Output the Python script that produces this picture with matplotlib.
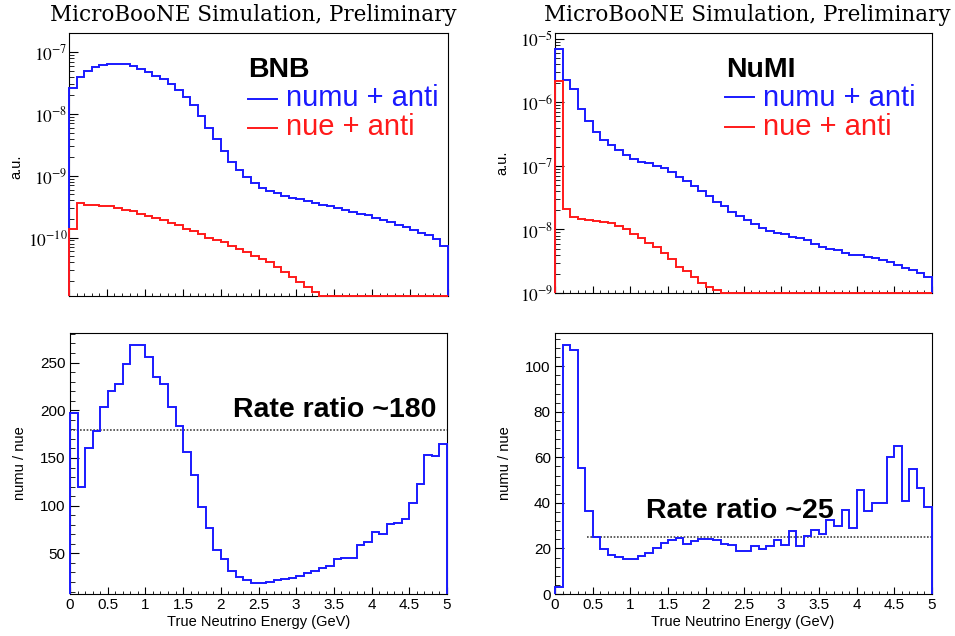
import numpy as np
import matplotlib.pyplot as plt
from matplotlib.ticker import MultipleLocator, LogLocator, FuncFormatter, NullFormatter

plt.rcParams['font.family'] = ['Liberation Sans', 'DejaVu Sans']
plt.rcParams['mathtext.fontset'] = 'stix'

# 50 bins of 0.1 GeV in true neutrino energy
energy_edges = np.linspace(0, 5, 51)

# BNB flux (a.u.)
bnb_numu = [2.6e-8, 4.0e-8, 5.0e-8, 5.7e-8, 6.2e-8, 6.5e-8, 6.5e-8, 6.3e-8, 5.9e-8, 5.4e-8,
            4.76e-8, 4.15e-8, 3.6e-8, 3.0e-8, 2.4e-8, 1.9e-8, 1.37e-8, 9.2e-9, 5.9e-9, 3.9e-9,
            2.5e-9, 1.7e-9, 1.23e-9, 9.4e-10, 7.6e-10, 6.4e-10, 5.7e-10, 5.2e-10, 4.7e-10, 4.4e-10,
            4.2e-10, 3.9e-10, 3.6e-10, 3.4e-10, 3.2e-10, 3.0e-10, 2.8e-10, 2.6e-10, 2.45e-10, 2.3e-10,
            2.1e-10, 1.9e-10, 1.8e-10, 1.6e-10, 1.5e-10, 1.35e-10, 1.2e-10, 1.1e-10, 9.5e-11, 7.3e-11]
bnb_nue = [1.36e-10, 3.6e-10, 3.4e-10, 3.4e-10, 3.3e-10, 3.2e-10, 3.0e-10, 2.85e-10, 2.65e-10, 2.4e-10,
           2.2e-10, 2.05e-10, 1.9e-10, 1.75e-10, 1.6e-10, 1.4e-10, 1.27e-10, 1.15e-10, 1.0e-10, 9.3e-11,
           8.4e-11, 7.3e-11, 6.5e-11, 5.8e-11, 5.1e-11, 4.6e-11, 4.0e-11, 3.4e-11, 2.8e-11, 2.3e-11,
           1.9e-11, 1.6e-11, 1.3e-11, 0, 0, 0, 0, 0, 0, 0,
           0, 0, 0, 0, 0, 0, 0, 0, 0, 0]
bnb_ratio = [197, 120, 160, 178, 203, 220, 228, 248.6, 268, 268.5,
             255.6, 235.3, 227.6, 203, 183, 156.3, 132.2, 99, 76.2, 53.5,
             44.4, 31.8, 25.5, 22, 19.2, 19.2, 20, 21.7, 22.7, 24.5,
             26.6, 29, 31.8, 35, 36.7, 44.4, 45.1, 45.1, 58.4, 61.5,
             72, 70.3, 80.4, 82.2, 86.4, 102.8, 122.7, 153.1, 151.7, 164.7]
bnb_rate_ratio = 179

# NuMI flux (a.u.)
numi_numu = [6.9e-6, 2.25e-6, 1.6e-6, 7.9e-7, 5.0e-7, 3.4e-7, 2.57e-7, 2.1e-7, 1.75e-7, 1.49e-7,
             1.28e-7, 1.16e-7, 1.1e-7, 1.0e-7, 9.1e-8, 7.9e-8, 6.8e-8, 5.7e-8, 4.8e-8, 4.0e-8,
             3.4e-8, 2.7e-8, 2.3e-8, 1.9e-8, 1.6e-8, 1.4e-8, 1.2e-8, 1.07e-8, 9.6e-9, 8.9e-9,
             8.4e-9, 7.7e-9, 7.2e-9, 6.7e-9, 6.0e-9, 5.3e-9, 5.0e-9, 4.7e-9, 4.3e-9, 4.0e-9,
             3.9e-9, 3.7e-9, 3.5e-9, 3.3e-9, 3.1e-9, 2.8e-9, 2.5e-9, 2.3e-9, 2.1e-9, 1.8e-9]
numi_nue = [2.2e-6, 2.06e-8, 1.55e-8, 1.45e-8, 1.4e-8, 1.37e-8, 1.32e-8, 1.25e-8, 1.14e-8, 1.0e-8,
            8.5e-9, 7.3e-9, 6.2e-9, 5.2e-9, 4.2e-9, 3.4e-9, 2.6e-9, 2.2e-9, 1.8e-9, 1.45e-9,
            1.25e-9, 1.1e-9, 0, 0, 0, 0, 0, 0, 0, 0,
            0, 0, 0, 0, 0, 0, 0, 0, 0, 0,
            0, 0, 0, 0, 0, 0, 0, 0, 0, 0]
numi_ratio = [3.1, 109.5, 107.3, 55.3, 36.3, 25, 19.9, 17.3, 16.1, 15.5,
              15.5, 16.5, 18, 20.2, 22.4, 23.5, 24.6, 22, 23.4, 24,
              24.3, 23.5, 22, 21.7, 18.7, 18.7, 20.9, 19.9, 21.2, 23.5,
              21.7, 27.8, 20.9, 25.3, 28.2, 26.3, 32.6, 30, 37, 29,
              45.5, 36.3, 40, 40, 60.2, 65.1, 40.7, 54.9, 46.5, 38.2]
numi_rate_ratio = 25
numi_line_start = 0.43

W, H = 955, 636
fig = plt.figure(figsize=(W / 100, H / 100), dpi=100)


def box(x0, y0, x1, y1):
    return [x0 / W, 1 - y1 / H, (x1 - x0) / W, (y1 - y0) / H]


def style(ax):
    for s in ax.spines.values():
        s.set_linewidth(0.8)
    ax.set_xlim(0, 5)
    ax.xaxis.set_major_locator(MultipleLocator(0.5))
    ax.xaxis.set_minor_locator(MultipleLocator(0.1))
    ax.xaxis.set_major_formatter(FuncFormatter(lambda v, p: '%g' % v))
    ax.tick_params(which='both', direction='in', top=False, right=False, labelsize=11)
    ax.tick_params(axis='x', which='major', length=5, pad=3)
    ax.tick_params(axis='x', which='minor', length=2.5)
    ax.tick_params(axis='y', which='major', length=6.5, pad=3)
    ax.tick_params(axis='y', which='minor', length=3.5)


def log_formatter(lo, hi):
    # only label decades inside the visible range
    def fmt(v, p):
        if v < lo * 0.999 or v > hi * 1.001:
            return ''
        return r'$10^{%d}$' % round(np.log10(v))
    return FuncFormatter(fmt)


ax_tl = fig.add_axes(box(69, 33, 448, 296))
ax_tr = fig.add_axes(box(555, 33, 932, 293))
ax_bl = fig.add_axes(box(70, 333, 447, 594))
ax_br = fig.add_axes(box(555, 333, 932, 594))

# top panels: fluxes
for ax, numu, nue, ylim in [(ax_tl, bnb_numu, bnb_nue, (1.14e-11, 2.03e-7)),
                            (ax_tr, numi_numu, numi_nue, (1e-9, 1.23e-5))]:
    style(ax)
    ax.set_yscale('log')
    ax.set_ylim(*ylim)
    ax.yaxis.set_major_locator(LogLocator(base=10))
    ax.yaxis.set_minor_locator(LogLocator(base=10, subs=np.arange(2, 10)))
    ax.yaxis.set_major_formatter(log_formatter(*ylim))
    ax.yaxis.set_minor_formatter(NullFormatter())
    ax.tick_params(axis='y', which='major', pad=1, labelsize=12.5)
    ax.tick_params(axis='x', labelbottom=False)
    ax.stairs(np.clip(numu, ylim[0], None), energy_edges, baseline=ylim[0],
              color='#1a1aff', lw=1.4, zorder=3, clip_on=False)
    ax.stairs(np.clip(nue, ylim[0], None), energy_edges, baseline=ylim[0],
              color='#ff1a1a', lw=1.4, zorder=3, clip_on=False)

# bottom panels: ratios
style(ax_bl)
ax_bl.set_ylim(7.4, 281)
ax_bl.yaxis.set_major_locator(MultipleLocator(50))
ax_bl.yaxis.set_minor_locator(MultipleLocator(10))
ax_bl.stairs(bnb_ratio, energy_edges, baseline=7.4, color='#1a1aff', lw=1.4, zorder=3, clip_on=False)
ax_bl.hlines(bnb_rate_ratio, 0, 5, colors='#444444', linestyles=(0, (1, 1)), lw=1.2, zorder=2)

style(ax_br)
ax_br.set_ylim(0, 114.6)
ax_br.yaxis.set_major_locator(MultipleLocator(20))
ax_br.yaxis.set_minor_locator(MultipleLocator(4))
ax_br.stairs(numi_ratio, energy_edges, baseline=0, color='#1a1aff', lw=1.4, zorder=3, clip_on=False)
ax_br.hlines(numi_rate_ratio, numi_line_start, 5, colors='#444444', linestyles=(0, (1, 1)), lw=1.2, zorder=2)

# titles
for xc in (253, 747):
    fig.text(xc / W, 1 - 15 / H, 'MicroBooNE Simulation, Preliminary',
             family='DejaVu Serif', fontsize=15.5, ha='center', va='center')

# axis titles
for xc, yc in ((16, 167), (502, 163)):
    fig.text(xc / W, 1 - yc / H, 'a.u.', rotation=90, fontsize=10.5, ha='center', va='center')
for xc in (20, 505):
    fig.text(xc / W, 1 - 463 / H, 'numu / nue', rotation=90, fontsize=10.5, ha='center', va='center')
for xc in (259, 743):
    fig.text(xc / W, 1 - 622 / H, 'True Neutrino Energy (GeV)', fontsize=10.5, ha='center', va='center')

# legends
for x0, name in ((248, 'BNB'), (726, 'NuMI')):
    fig.text(x0 / W, 1 - 77 / H, name, fontsize=20.5, fontweight='bold', ha='left', va='baseline')
for x0, y_line, y_text, label, col in ((248, 99, 106, 'numu + anti', '#1a1aff'),
                                       (248, 128, 135, 'nue + anti', '#ff1a1a'),
                                       (725, 97, 106, 'numu + anti', '#1a1aff'),
                                       (725, 127, 135, 'nue + anti', '#ff1a1a')):
    fig.add_artist(plt.Line2D([x0 / W, (x0 + 29) / W], [1 - y_line / H] * 2, color=col, lw=1.4))
    fig.text((x0 + 38) / W, 1 - y_text / H, label, color=col, fontsize=21, ha='left', va='baseline')

fig.text(233 / W, 1 - 417 / H, 'Rate ratio ~180', fontsize=20.5, fontweight='bold', ha='left', va='baseline')
fig.text(646 / W, 1 - 518 / H, 'Rate ratio ~25', fontsize=20.5, fontweight='bold', ha='left', va='baseline')

fig.savefig('out.png', dpi=100)
